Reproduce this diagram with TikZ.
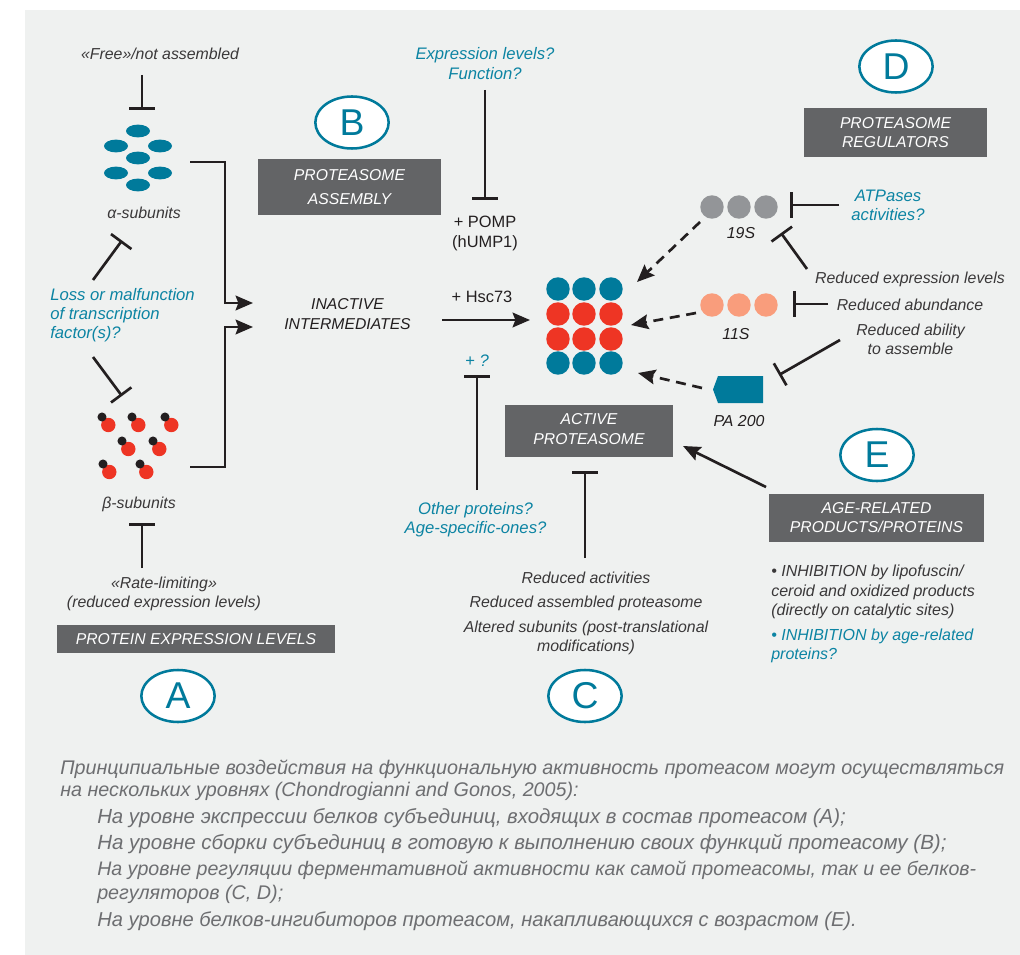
\documentclass[tikz,border=0pt]{standalone}
\usepackage{fontspec}
\setmainfont{Liberation Sans}
\usetikzlibrary{arrows.meta,shapes.geometric,calc}
\definecolor{panel}{HTML}{EFF1F0}
\definecolor{teal}{HTML}{007A9B}
\definecolor{bluetxt}{HTML}{0C84A3}
\definecolor{boxgrey}{HTML}{636466}
\definecolor{ink}{HTML}{231F20}
\definecolor{softink}{HTML}{3A3839}
\definecolor{redc}{HTML}{EE3524}
\definecolor{greyc}{HTML}{939598}
\definecolor{salmon}{HTML}{F99D7C}
\definecolor{ruink}{HTML}{6D6E71}
\tikzset{
 lab/.style={inner sep=0pt,align=center,text=softink,font=\fontsize{11.9}{14.4}\selectfont\itshape},
 lableft/.style={lab,align=left,anchor=west},
 bluelab/.style={lab,text=bluetxt,font=\fontsize{12.5}{14.4}\selectfont\itshape},
 plainlab/.style={inner sep=0pt,align=center,text=ink,font=\fontsize{12.3}{15}\selectfont},
 titlebox/.style={fill=boxgrey,draw=none,inner sep=0pt,text=white,align=center,font=\fontsize{11.8}{14.4}\selectfont\itshape},
 titletext/.style={inner sep=0pt,text=white,align=center,font=\fontsize{11.8}{14.4}\selectfont\itshape},
 lett/.style={ellipse,draw=teal,line width=1.9pt,fill=white,minimum width=55pt,minimum height=39pt,inner sep=0pt,text=teal,font=\fontsize{28}{28}\selectfont},
 tbar/.style={draw=ink,line width=2pt,-{Bar[width=19pt]}},
 arr/.style={draw=ink,line width=2pt,-{Stealth[length=13pt,width=11pt,inset=2pt]}},
 darr/.style={arr,dash pattern=on 7.5pt off 5pt},
 ball/.style={circle,inner sep=0pt,minimum size=17.6pt,draw=none},
 aell/.style={ellipse,fill=teal,draw=none,inner sep=0pt,minimum width=18pt,minimum height=9.6pt},
 reddot/.style={circle,fill=redc,inner sep=0pt,minimum size=10.8pt},
 blackdot/.style={circle,fill=ink,inner sep=0pt,minimum size=6.8pt},
 ru/.style={inner sep=0pt,anchor=base west,text=ruink,font=\fontsize{14.8}{14.8}\selectfont\itshape}
}
\begin{document}
\begin{tikzpicture}[x=0.75pt,y=-0.75pt]
\useasboundingbox (0,0) rectangle (1020,955);
\fill[panel] (25,10) rectangle (1020,955);

% ---- A column
\node[lab] (free) at (160,54) {«Free»/not assembled};
\coordinate (t1a) at (142,75); \coordinate (t1b) at (142,110);
\draw[tbar] (t1a) -- (t1b);
\foreach \n/\x/\y in {a1/138/131,a2/116/146,a3/160/146,a4/138/158,a5/116/173,a6/160/173,a7/138/185}
  \node[aell] (\n) at (\x,\y) {};
\node[lab] (alpha) at (144,213) {α-subunits};
\coordinate (t2a) at (93,280); \coordinate (t2b) at (122,240.5);
\draw[tbar] (t2a) -- (t2b);
\node[bluelab,align=left,anchor=west] (loss) at (50,315) {Loss or malfunction\\of transcription\\factor(s)?};
\coordinate (t3a) at (93,357); \coordinate (t3b) at (122,396);
\draw[tbar] (t3a) -- (t3b);
\foreach \n/\x/\y in {b1/102/417,b2/132/417,b3/165/417,b4/122/441,b5/153/441,b6/103/464,b7/140/464}{
  \node[reddot] (r\n) at ($(\x,\y)+(6.3,8)$) {};
  \node[blackdot] (k\n) at (\x,\y) {};
}
\node[lab] (beta) at (139,504) {β-subunits};
\coordinate (t4a) at (142,568); \coordinate (t4b) at (142,523);
\draw[tbar] (t4a) -- (t4b);
\node[lab] (rate) at (164,593.5) {«Rate-limiting»\\(reduced expression levels)};
\node[titlebox,minimum width=208.5pt,minimum height=21pt] (boxA) at (196,639) {PROTEIN EXPRESSION LEVELS};
\node[lett] (A) at (178,696) {A};

% ---- converge
\coordinate (al) at (190,162); \coordinate (alc) at (225,162); \coordinate (ald) at (225,303); \coordinate (ale) at (253,303);
\draw[arr,line join=miter] (al) -- (alc) -- (ald) -- (ale);
\coordinate (bl) at (190,467); \coordinate (blc) at (225,467); \coordinate (bld) at (225,327); \coordinate (ble) at (253,327);
\draw[arr,line join=miter] (bl) -- (blc) -- (bld) -- (ble);
\node[lab,text=ink,font=\fontsize{11.8}{15}\selectfont\itshape] (inact) at (347.5,314) {INACTIVE\\INTERMEDIATES};

% ---- B
\node[titlebox,minimum width=137pt,minimum height=42pt,font=\fontsize{11.8}{18}\selectfont\itshape] (boxB) at (349.5,187) {PROTEASOME\\ASSEMBLY};
\node[lett] (B) at (352,122.5) {B};
\node[bluelab] (expr) at (485,63.5) {Expression levels?\\Function?};
\coordinate (t5a) at (485,90); \coordinate (t5b) at (485,200);
\draw[tbar] (t5a) -- (t5b);
\node[plainlab] (pomp) at (485,233) {+ POMP\\(hUMP1)};
\node[plainlab] (hsc) at (482,297) {+ Hsc73};
\coordinate (h1) at (442,320); \coordinate (h2) at (530,320);
\draw[arr] (h1) -- (h2);

% ---- proteasome
\foreach \n/\x/\y/\c in {p1/558/289/teal,p2/584/289/teal,p3/611/289/teal,
  p4/558/314/redc,p5/584/314/redc,p6/611/314/redc,
  p7/558/339/redc,p8/584/339/redc,p9/611/339/redc,
  p10/558/363/teal,p11/584/363/teal,p12/611/363/teal}
  \node[ball,fill=\c] (\n) at (\x,\y) {};
\node[bluelab] (plusq) at (477,361) {+ ?};
\coordinate (t6a) at (477,490); \coordinate (t6b) at (477,375);
\draw[tbar] (t6a) -- (t6b);
\node[bluelab] (other) at (475.5,519.5) {Other proteins?\\Age-specific-ones?};
\node[titlebox,minimum width=126pt,minimum height=39pt] (boxC) at (589,431) {};
\node[titletext] (textC) at (589,429) {ACTIVE\\PROTEASOME};
\coordinate (t7a) at (585,558); \coordinate (t7b) at (585,471);
\draw[tbar] (t7a) -- (t7b);
\node[lab] (r1) at (586,578) {Reduced activities};
\node[lab] (r2) at (586,603) {Reduced assembled proteasome};
\node[lab] (r3) at (586,637.5) {Altered subunits (post-translational\\modifications)};
\node[lett] (C) at (585,696) {C};

% ---- D
\node[lett] (D) at (896,66.5) {D};
\node[titlebox,minimum width=137pt,minimum height=37pt] (boxD) at (895.5,132.5) {PROTEASOME\\REGULATORS};
\foreach \n/\x in {s1/712,s2/739,s3/766} \node[ball,fill=greyc] (\n) at (\x,207) {};
\foreach \n/\x in {e1/712,e2/739,e3/766} \node[ball,fill=salmon] (\n) at (\x,305) {};
\node[lab,text=ink] (l19) at (741,233) {19S};
\node[lab,text=ink] (l11) at (736,334) {11S};
\node[bluelab] (atp) at (888,205) {ATPases\\activities?};
\coordinate (t8a) at (839,205); \coordinate (t8b) at (790,205);
\draw[tbar] (t8a) -- (t8b);
\coordinate (t9a) at (807,269); \coordinate (t9b) at (781,233);
\draw[tbar] (t9a) -- (t9b);
\node[lab] (rel) at (910,279) {Reduced expression levels};
\node[lab] (rab) at (910,305) {Reduced abundance};
\node[lab] (ras) at (910.5,339.5) {Reduced ability\\to assemble};
\coordinate (t10a) at (828,304); \coordinate (t10b) at (793,304);
\draw[tbar] (t10a) -- (t10b);
\coordinate (t11a) at (840,340); \coordinate (t11b) at (779,375);
\draw[tbar] (t11a) -- (t11b);
\draw[fill=teal,draw=none] (713,389.5) -- (718,376) -- (763,376) -- (763,403) -- (718,403) -- cycle;
\node[lab,text=ink] (pa) at (739,421) {PA 200};
\coordinate (d1a) at (700,222); \coordinate (d1b) at (637,282);
\coordinate (d2a) at (696,313); \coordinate (d2b) at (631,325);
\coordinate (d3a) at (702,388); \coordinate (d3b) at (638,373);
\draw[darr] (d1a) -- (d1b);
\draw[darr] (d2a) -- (d2b);
\draw[darr] (d3a) -- (d3b);

% ---- E
\node[lett] (E) at (877,455) {E};
\node[titlebox,minimum width=161pt,minimum height=36pt] (boxE) at (876.5,517.5) {AGE-RELATED\\PRODUCTS/PROTEINS};
\coordinate (ea) at (766,487); \coordinate (eb) at (683,446);
\draw[arr] (ea) -- (eb);
\node[lableft,font=\fontsize{12}{14.4}\selectfont\itshape] (inh) at (771,592) {• INHIBITION by lipofuscin/\\ceroid and oxidized products\\(directly on catalytic sites)};
\node[lableft,text=bluetxt,font=\fontsize{12}{14.4}\selectfont\itshape] (inh2) at (771,645.5) {• INHIBITION by age-related\\proteins?};

% ---- caption
\node[ru] (c1) at (60,774) {Принципиальные воздействия на функциональную активность протеасом могут осуществляться};
\node[ru] (c2) at (60,796) {на нескольких уровнях (Chondrogianni and Gonos, 2005):};
\node[ru,font=\fontsize{15.3}{15.3}\selectfont\itshape] (c3) at (97,823) {На уровне экспрессии белков субъединиц, входящих в состав протеасом (А);};
\node[ru,font=\fontsize{15.4}{15.4}\selectfont\itshape] (c4) at (97,849) {На уровне сборки субъединиц в готовую к выполнению своих функций протеасому (В);};
\node[ru,font=\fontsize{14.7}{14.7}\selectfont\itshape] (c5) at (97,875) {На уровне регуляции ферментативной активности как самой протеасомы, так и ее белков-};
\node[ru] (c6) at (97,899) {регуляторов (С, D);};
\node[ru,font=\fontsize{15.1}{15.1}\selectfont\itshape] (c7) at (97,926) {На уровне белков-ингибиторов протеасом, накапливающихся с возрастом (Е).};
\end{tikzpicture}
\end{document}
